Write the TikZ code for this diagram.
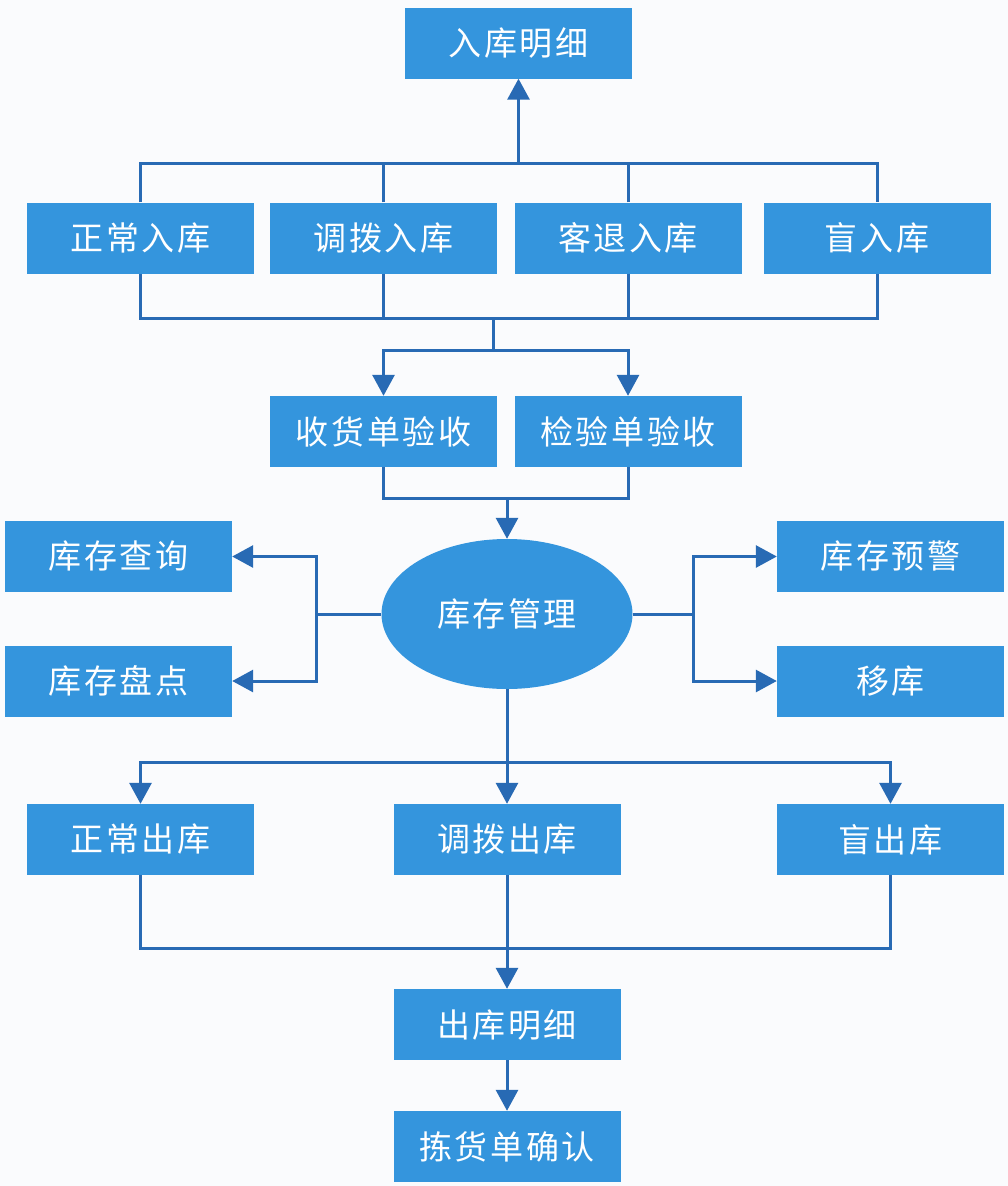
\documentclass[tikz,border=0pt]{standalone}
\usepackage{fontspec}
\setmainfont{Noto Sans CJK SC}[LetterSpace=8]
\usetikzlibrary{arrows.meta,shapes.geometric}
\definecolor{boxblue}{RGB}{52,149,221}
\definecolor{lineblue}{RGB}{40,106,180}
\definecolor{bg}{RGB}{250,251,253}
\begin{document}
\begin{tikzpicture}[x=1pt,y=-1pt,
  bx/.style={draw=none,fill=boxblue,text=white,minimum width=227pt,minimum height=71pt,inner sep=0pt,font=\fontsize{33}{38}\selectfont},
  ln/.style={draw=lineblue,line width=3pt},
  arr/.style={ln,-{Triangle[width=22pt,length=21pt]}}]
\fill[bg] (0,0) rectangle (1008,1186);
\useasboundingbox (0,0) rectangle (1008,1186);
% nodes
\node[bx] (in) at (518.5,43) {入库明细};
\node[bx] (n1) at (140.5,238) {正常入库};
\node[bx] (n2) at (383.5,238) {调拨入库};
\node[bx] (n3) at (628,238) {客退入库};
\node[bx] (n4) at (877,238) {盲入库};
\node[bx] (c1) at (383.5,431.5) {收货单验收};
\node[bx] (c2) at (628,431.5) {检验单验收};
\node[ellipse,fill=boxblue,text=white,minimum width=251pt,minimum height=150pt,inner sep=0pt,font=\fontsize{33}{38}\selectfont] (inv) at (507,614) {库存管理};
\node[bx] (q) at (118.5,556.5) {库存查询};
\node[bx] (p) at (118.5,681) {库存盘点};
\node[bx] (w) at (890.5,556.5) {库存预警};
\node[bx] (m) at (890.5,681) {移库};
\node[bx] (o1) at (140.5,839.5) {正常出库};
\node[bx] (o2) at (507,839.5) {调拨出库};
\node[bx] (o3) at (890.5,839.5) {盲出库};
\node[bx] (od) at (507,1024.5) {出库明细};
\node[bx] (pk) at (507,1146.5) {拣货单确认};
% top bracket
\coordinate (tb) at (518.5,163);
\draw[ln] (n1.north) -- (n1.north |- tb) -- (n4.north |- tb) -- (n4.north);
\draw[ln] (n2.north) -- (n2.north |- tb);
\draw[ln] (n3.north) -- (n3.north |- tb);
\draw[arr] (tb) -- (in.south);
% bottom bracket of row 2
\coordinate (bb) at (493,318);
\coordinate (sp) at (493,350);
\draw[ln] (n1.south) -- (n1.south |- bb) -- (n4.south |- bb) -- (n4.south);
\draw[ln] (n2.south) -- (n2.south |- bb);
\draw[ln] (n3.south) -- (n3.south |- bb);
\draw[ln] (bb) -- (sp);
\draw[arr] (sp) -| (c1.north);
\draw[arr] (sp) -| (c2.north);
% row 3 to ellipse
\coordinate (mb) at (507,498);
\draw[ln] (c1.south) -- (c1.south |- mb) -- (c2.south |- mb) -- (c2.south);
\draw[arr] (mb) -- (inv.north);
% left and right
\coordinate (lj) at (316,614);
\coordinate (rj) at (693,614);
\draw[ln] (inv.west) -- (lj);
\draw[arr] (lj) |- (q.east);
\draw[arr] (lj) |- (p.east);
\draw[ln] (inv.east) -- (rj);
\draw[arr] (rj) |- (w.west);
\draw[arr] (rj) |- (m.west);
% down
\coordinate (dj) at (507,762);
\draw[ln] (inv.south) -- (dj);
\draw[arr] (dj) -| (o1.north);
\draw[arr] (dj) -| (o3.north);
\draw[arr] (dj) -- (o2.north);
% bottom bracket
\coordinate (ob) at (507,948);
\draw[ln] (o1.south) -- (o1.south |- ob) -- (o3.south |- ob) -- (o3.south);
\draw[ln] (o2.south) -- (ob);
\draw[arr] (ob) -- (od.north);
\draw[arr] (od.south) -- (pk.north);
\end{tikzpicture}
\end{document}
